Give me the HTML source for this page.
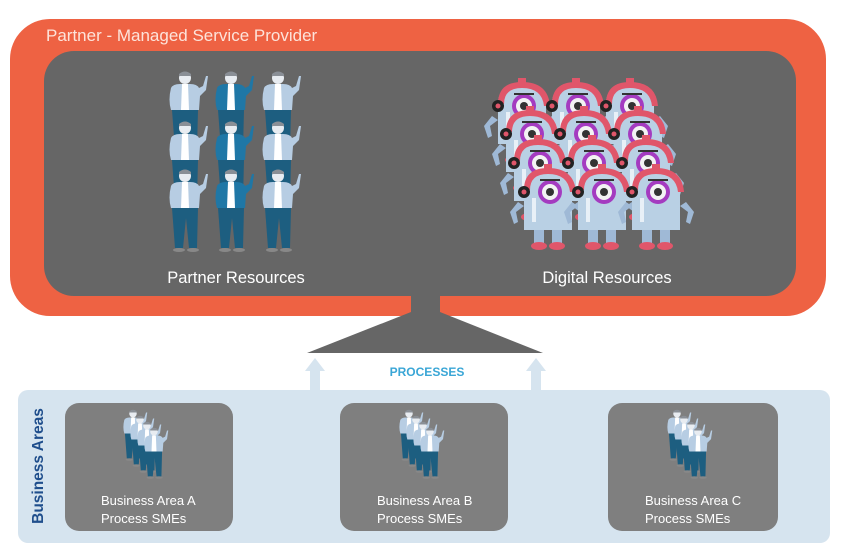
<!DOCTYPE html>
<html><head><meta charset="utf-8"><style>
html,body{margin:0;padding:0;background:#fff;}
svg{display:block;}
text{font-family:"Liberation Sans",sans-serif;}
</style></head><body>
<svg width="845" height="548" viewBox="0 0 845 548" xmlns="http://www.w3.org/2000/svg">
<defs>
  <g id="p">
    <circle cx="0" cy="6" r="6" fill="#e8ecf1"/>
    <path d="M-6,2 Q0,-3 6,2 L6,4 L-6,4Z" fill="#8a8f96"/>
    <path d="M-14,16 Q-12,12 -5,12 L5,12 Q12,12 14,16 L18,14 L21,4 L23,4 L21,18 L15,24 L14,38 L-14,38 Q-17,28 -14,16Z" fill="#b7cde3"/>
    <path d="M-3,12 L3,12 L4,38 L-4,38Z" fill="#ffffff"/>
    <path d="M-13,38 L13,38 L12,78 L4,78 L1,48 L-2,78 L-10,78Z" fill="#1d5e80"/>
    <ellipse cx="-6" cy="80" rx="6" ry="2" fill="#888"/>
    <ellipse cx="8" cy="80" rx="6" ry="2" fill="#888"/>
  </g>
  <g id="pd">
    <circle cx="0" cy="6" r="6" fill="#e8ecf1"/>
    <path d="M-6,2 Q0,-3 6,2 L6,4 L-6,4Z" fill="#8a8f96"/>
    <path d="M-14,16 Q-12,12 -5,12 L5,12 Q12,12 14,16 L18,14 L21,4 L23,4 L21,18 L15,24 L14,38 L-14,38 Q-17,28 -14,16Z" fill="#1f77a6"/>
    <path d="M-3,12 L3,12 L4,38 L-4,38Z" fill="#ffffff"/>
    <path d="M-13,38 L13,38 L12,78 L4,78 L1,48 L-2,78 L-10,78Z" fill="#1d5e80"/>
    <ellipse cx="-6" cy="80" rx="6" ry="2" fill="#888"/>
    <ellipse cx="8" cy="80" rx="6" ry="2" fill="#888"/>
  </g>
  <g id="r">
    <path d="M-30,34 L-38,44 L-34,56 L-30,54 L-32,44 L-24,38Z" fill="#9fb9d6"/>
    <path d="M30,34 L38,44 L34,56 L30,54 L32,44 L24,38Z" fill="#9fb9d6"/>
    <path d="M-14,58 L-14,76 L-4,76 L-4,58Z M4,58 L4,76 L14,76 L14,58Z" fill="#9fb9d6"/>
    <ellipse cx="-9" cy="78" rx="8" ry="4" fill="#e0566a"/>
    <ellipse cx="9" cy="78" rx="8" ry="4" fill="#e0566a"/>
    <path d="M-24,62 L-24,22 Q-24,2 0,2 Q24,2 24,22 L24,62Z" fill="#b9d0e4"/>
    <path d="M-24,22 Q-24,0 0,0 Q26,0 28,24 L22,24 Q20,6 0,6 Q-18,6 -18,22Z" fill="#e0566a"/>
    <rect x="-4" y="-4" width="8" height="5" fill="#e0566a"/>
    <rect x="-16" y="30" width="4" height="24" fill="#e8f0f7"/>
    <circle cx="2" cy="24" r="12" fill="#a43bc0"/>
    <circle cx="2" cy="24" r="8" fill="#f3f3f3"/>
    <circle cx="2" cy="24" r="4" fill="#333"/>
    <path d="M-8,12 L12,12" stroke="#333" stroke-width="2"/>
    <circle cx="-24" cy="24" r="6" fill="#222"/>
    <circle cx="-24" cy="24" r="2.5" fill="#e0566a"/>
  </g>
  <g id="sme">
    <use href="#p" transform="translate(0,0) scale(0.62)"/>
    <use href="#p" transform="translate(7,6) scale(0.62)"/>
    <use href="#p" transform="translate(14,12) scale(0.62)"/>
    <use href="#p" transform="translate(21,18) scale(0.62)"/>
  </g>
</defs>

<rect x="10" y="19" width="816" height="297" rx="40" fill="#ee6243"/>
<text x="46" y="41" font-size="17" fill="#fde3da">Partner - Managed Service Provider</text>
<rect x="44" y="51" width="752" height="245" rx="30" fill="#666666"/>
<rect x="411" y="290" width="29" height="24" fill="#666666"/>
<path d="M411,312 L440,312 L543,353 L307,353Z" fill="#666666"/>

<use href="#p" x="185" y="72"/><use href="#pd" x="231" y="72"/><use href="#p" x="278" y="72"/>
<use href="#p" x="185" y="122"/><use href="#pd" x="231" y="122"/><use href="#p" x="278" y="122"/>
<use href="#p" x="185" y="170"/><use href="#pd" x="231" y="170"/><use href="#p" x="278" y="170"/>
<text x="236" y="283" font-size="16.5" fill="#ffffff" text-anchor="middle">Partner Resources</text>

<use href="#r" x="522" y="82"/><use href="#r" x="576" y="82"/><use href="#r" x="630" y="82"/>
<use href="#r" x="530" y="110"/><use href="#r" x="584" y="110"/><use href="#r" x="638" y="110"/>
<use href="#r" x="538" y="139"/><use href="#r" x="592" y="139"/><use href="#r" x="646" y="139"/>
<use href="#r" x="548" y="168"/><use href="#r" x="602" y="168"/><use href="#r" x="656" y="168"/>
<text x="607" y="283" font-size="16.5" fill="#ffffff" text-anchor="middle">Digital Resources</text>

<rect x="18" y="390" width="812" height="153" rx="10" fill="#d6e4ef"/>
<path d="M310,392 L310,371 L305,371 L315,358 L325,371 L320,371 L320,392Z" fill="#d6e4ef"/>
<path d="M531,392 L531,371 L526,371 L536,358 L546,371 L541,371 L541,392Z" fill="#d6e4ef"/>
<text x="427" y="376" font-size="12" font-weight="bold" fill="#3aa6d6" text-anchor="middle">PROCESSES</text>
<text transform="translate(43,466) rotate(-90)" font-size="15.5" font-weight="bold" fill="#1f4e8c" text-anchor="middle">Business Areas</text>

<rect x="65" y="403" width="168" height="128" rx="14" fill="#7f7f7f"/>
<rect x="340" y="403" width="168" height="128" rx="14" fill="#7f7f7f"/>
<rect x="608" y="403" width="170" height="128" rx="14" fill="#7f7f7f"/>
<use href="#sme" x="133" y="410"/>
<use href="#sme" x="409" y="410"/>
<use href="#sme" x="677" y="410"/>
<g font-size="13" fill="#ffffff">
<text x="101" y="505">Business Area A</text><text x="101" y="523">Process SMEs</text>
<text x="377" y="505">Business Area B</text><text x="377" y="523">Process SMEs</text>
<text x="645" y="505">Business Area C</text><text x="645" y="523">Process SMEs</text>
</g>
</svg>
</body></html>
